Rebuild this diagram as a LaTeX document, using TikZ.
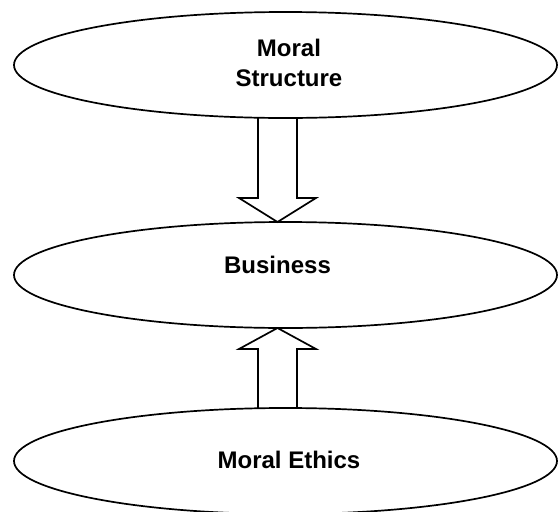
\documentclass[tikz,border=0pt]{standalone}
\usepackage{fontspec}
\setmainfont{Liberation Sans}
\usetikzlibrary{shapes.geometric,calc}
\begin{document}
\begin{tikzpicture}[node distance=210pt, thick]
    % Define styles
    \tikzstyle{oval} = [ellipse, draw, line width=1.7pt, minimum width=543pt, minimum height=106pt, inner sep=0pt, outer sep=0pt]
    \tikzstyle{caption} = [align=center, font=\fontsize{24}{29.5}\selectfont\bfseries]
    \tikzstyle{blockarrow} = [draw, line width=1.7pt, line join=miter]

    \useasboundingbox (0,0) rectangle (558pt,-512pt);

    % Place nodes - ellipses
    \node [oval, label={[caption, xshift=3.5pt, yshift=2pt]center:Moral\\Structure}] (structure) at (285.5pt,-65pt) {};
    \node [oval, below of=structure, label={[caption, xshift=-8pt, yshift=10pt]center:Business}] (business) {};
    \node [oval, below of=business, node distance=186pt, label={[caption, xshift=3.5pt, yshift=1pt]center:Moral Ethics}] (ethics) {};

    % Draw block arrows between ellipses
    \draw [blockarrow] ($(structure.south)+(-27.5pt,0)$) -- ($(business.north)+(-27.5pt,24pt)$) -- ($(business.north)+(-46.5pt,24pt)$) -- ($(business.north)+(-8pt,0)$) -- ($(business.north)+(30.5pt,24pt)$) -- ($(business.north)+(11.5pt,24pt)$) -- ($(structure.south)+(11.5pt,0)$);
    \draw [blockarrow] ($(ethics.north)+(-27.5pt,0)$) -- ($(business.south)+(-27.5pt,-21pt)$) -- ($(business.south)+(-46.5pt,-21pt)$) -- ($(business.south)+(-8pt,0)$) -- ($(business.south)+(30.5pt,-21pt)$) -- ($(business.south)+(11.5pt,-21pt)$) -- ($(ethics.north)+(11.5pt,0)$);

\end{tikzpicture}
\end{document}
